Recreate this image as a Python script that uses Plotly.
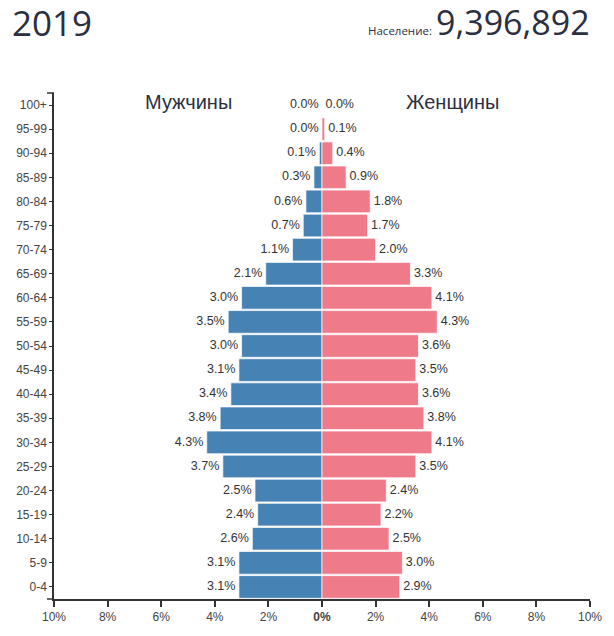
import plotly.graph_objects as go

ages = ["0-4", "5-9", "10-14", "15-19", "20-24", "25-29", "30-34", "35-39",
        "40-44", "45-49", "50-54", "55-59", "60-64", "65-69", "70-74", "75-79",
        "80-84", "85-89", "90-94", "95-99", "100+"]
male = [3.1, 3.1, 2.6, 2.4, 2.5, 3.7, 4.3, 3.8, 3.4, 3.1, 3.0, 3.5, 3.0, 2.1,
        1.1, 0.7, 0.6, 0.3, 0.1, 0.0, 0.0]
female = [2.9, 3.0, 2.5, 2.2, 2.4, 3.5, 4.1, 3.8, 3.6, 3.5, 3.6, 4.3, 4.1, 3.3,
          2.0, 1.7, 1.8, 0.9, 0.4, 0.1, 0.0]
tick_vals = [-10, -8, -6, -4, -2, 0, 2, 4, 6, 8, 10]
tick_text = ["10%", "8%", "6%", "4%", "2%", "<b>0%</b>", "2%", "4%", "6%", "8%", "10%"]
year = "2019"
population = "9,396,892"
pop_label = "Население:"
male_label = "Мужчины"
female_label = "Женщины"

MALE_C = "#4682b4"
FEMALE_C = "#ef7b8a"
TXT = "#2b2f3f"

W, H = 614, 636
L, R, T, B = 54, 21, 93, 34

fig = go.Figure()
fig.add_trace(go.Bar(y=ages, x=[-v for v in male], orientation="h",
                     marker=dict(color=MALE_C, line=dict(color="rgba(255,255,255,0.7)", width=1)),
                     hoverinfo="skip"))
fig.add_trace(go.Bar(y=ages, x=female, orientation="h",
                     marker=dict(color=FEMALE_C, line=dict(color="rgba(255,255,255,0.7)", width=1)),
                     hoverinfo="skip"))
fig.add_trace(go.Scatter(y=ages, x=[-v for v in male], mode="text",
                         text=[f"{v:.1f}%\u00a0" for v in male], textposition="middle left",
                         textfont=dict(family="Liberation Sans, Arial", size=12.5, color="#333"),
                         hoverinfo="skip"))
fig.add_trace(go.Scatter(y=ages, x=female, mode="text",
                         text=[f"\u00a0{v:.1f}%" for v in female], textposition="middle right",
                         textfont=dict(family="Liberation Sans, Arial", size=12.5, color="#333"),
                         hoverinfo="skip"))

pw = W - L - R
ph = H - T - B


def px(xs):
    return (xs - L) / pw


def py(ys):
    return (H - B - ys) / ph


annotations = [
    dict(text=year, x=px(10), y=py(22), xanchor="left", yanchor="middle",
         font=dict(family="Open Sans", size=35, color=TXT)),
    dict(text=population, x=px(595), y=py(22), xanchor="right", yanchor="middle",
         font=dict(family="Open Sans", size=34, color=TXT)),
    dict(text=pop_label, x=px(436), y=py(30), xanchor="right", yanchor="middle",
         font=dict(family="Open Sans", size=11.5, color=TXT)),
    dict(text=male_label, x=px(189), y=py(102), xanchor="center", yanchor="middle",
         font=dict(family="Liberation Sans, Arial", size=20, color=TXT)),
    dict(text=female_label, x=px(455), y=py(102), xanchor="center", yanchor="middle",
         font=dict(family="Liberation Sans, Arial", size=20, color=TXT)),
]
for a in annotations:
    a.update(xref="paper", yref="paper", showarrow=False)

shapes = [
    dict(type="line", xref="paper", yref="paper", x0=px(47), x1=0, y0=1, y1=1,
         line=dict(color="#333", width=1.5)),
    dict(type="line", xref="paper", yref="paper", x0=px(47), x1=0, y0=0, y1=0,
         line=dict(color="#333", width=1.5)),
]

fig.update_layout(
    width=W, height=H,
    margin=dict(l=L, r=R, t=T, b=B),
    plot_bgcolor="white", paper_bgcolor="white",
    barmode="overlay", bargap=0.06,
    showlegend=False,
    annotations=annotations,
    shapes=shapes,
    xaxis=dict(range=[-10, 10], tickvals=tick_vals, ticktext=tick_text,
               showgrid=False, zeroline=False, showline=True, linecolor="#333", linewidth=1.5,
               ticks="outside", ticklen=6, tickcolor="#333", tickwidth=1.5,
               tickfont=dict(family="Liberation Sans, Arial", size=12, color="#444"),
               fixedrange=True),
    yaxis=dict(categoryorder="array", categoryarray=ages, range=[-0.5, 20.5],
               showgrid=False, zeroline=False, showline=True, linecolor="#333", linewidth=1.5,
               ticks="outside", ticklen=3, tickcolor="#333",
               tickfont=dict(family="Liberation Sans, Arial", size=12, color="#444"),
               fixedrange=True),
)

fig.write_html("out.html",
               config={"displayModeBar": False},
               post_script="document.body.style.margin='0';document.body.style.overflow='hidden';")
